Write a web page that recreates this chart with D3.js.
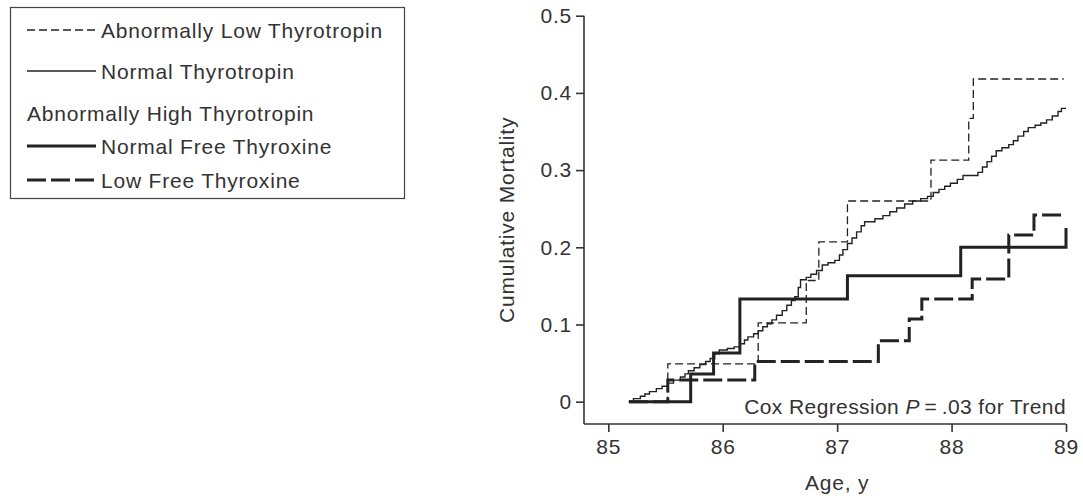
<!DOCTYPE html>
<html>
<head>
<meta charset="utf-8">
<script src="https://cdn.jsdelivr.net/npm/d3@7"></script>
<style>
  body { margin: 0; background: #fff; }
  svg { display: block; font-family: "Liberation Sans", Arial, Helvetica, sans-serif; }
  text { fill: #333; }
</style>
</head>
<body>
<div id="chart"></div>
<script>
// data: [age, cumulative mortality] at each step
var lowTsh = [[85.18,0],[85.52,0.049],[86.31,0.102],[86.73,0.157],[86.84,0.207],
  [87.09,0.26],[87.82,0.313],[88.15,0.367],[88.19,0.418]]
var lowTshEnd = 88.98

var normalTsh = [[85.18,0],[85.22,0.004],[85.28,0.007],[85.32,0.010],[85.36,0.013],
  [85.42,0.017],[85.47,0.020],[85.52,0.024],[85.57,0.028],[85.63,0.032],[85.67,0.036],
  [85.70,0.040],[85.75,0.044],[85.80,0.048],[85.85,0.052],[85.89,0.056],[85.93,0.062],
  [85.97,0.067],[86.04,0.069],[86.10,0.071],[86.15,0.075],[86.19,0.080],[86.22,0.084],
  [86.27,0.088],[86.31,0.092],[86.35,0.097],[86.39,0.101],[86.43,0.106],[86.47,0.112],
  [86.52,0.118],[86.56,0.125],[86.60,0.131],[86.63,0.136],[86.66,0.148],[86.68,0.158],
  [86.73,0.161],[86.77,0.165],[86.82,0.170],[86.87,0.177],[86.92,0.180],[86.98,0.183],
  [87.02,0.190],[87.05,0.197],[87.09,0.205],[87.13,0.212],[87.17,0.220],[87.21,0.228],
  [87.24,0.233],[87.33,0.237],[87.40,0.241],[87.46,0.246],[87.52,0.251],[87.59,0.256],
  [87.66,0.260],[87.73,0.263],[87.79,0.266],[87.84,0.271],[87.89,0.275],[87.94,0.279],
  [87.99,0.283],[88.05,0.288],[88.10,0.293],[88.23,0.297],[88.27,0.304],[88.31,0.311],
  [88.35,0.318],[88.39,0.325],[88.44,0.329],[88.50,0.333],[88.54,0.338],[88.58,0.344],
  [88.63,0.350],[88.67,0.355],[88.73,0.358],[88.78,0.361],[88.83,0.365],[88.88,0.370],
  [88.93,0.376],[88.96,0.380]]
var normalTshEnd = 89.0

var normalT4 = [[85.18,0],[85.72,0.036],[85.92,0.063],[86.15,0.133],[87.09,0.163],
  [88.08,0.2],[89.0,0.225]]
var normalT4End = 89.0

var lowT4 = [[85.18,0],[85.52,0.028],[86.28,0.052],[87.36,0.079],[87.63,0.107],
  [87.74,0.133],[88.18,0.159],[88.50,0.216],[88.72,0.242]]
var lowT4End = 88.98

var xTicks = [85, 86, 87, 88, 89]
var yTicks = [0, 0.1, 0.2, 0.3, 0.4, 0.5]
var yTickLabels = ['0', '0.1', '0.2', '0.3', '0.4', '0.5']

var W = 1083, H = 499
var axisX = 584, axisY = 424

var svg = d3.select('#chart').append('svg')
  .attr('width', W).attr('height', H)

var x = d3.scaleLinear().domain([85, 89]).range([608.3, 1066])
var y = d3.scaleLinear().domain([0, 0.5]).range([401.7, 15.7])

var fontSize = 21, spacing = '0.8px'

// axes
var yAxis = svg.append('g')
  .attr('transform', 'translate(' + axisX + ',0)')
  .call(d3.axisLeft(y).tickValues(yTicks).tickSize(8).tickSizeOuter(0)
    .tickFormat(function(d, i){ return yTickLabels[i] }))
yAxis.select('.domain').remove()
yAxis.append('line')
  .attr('x1', 0).attr('x2', 0)
  .attr('y1', y(0.5)).attr('y2', axisY)
  .attr('stroke', '#333').attr('stroke-width', 1.6)

var xAxis = svg.append('g')
  .attr('transform', 'translate(0,' + axisY + ')')
  .call(d3.axisBottom(x).tickValues(xTicks).tickSize(8).tickSizeOuter(0)
    .tickFormat(d3.format('d')))
xAxis.select('.domain').remove()
xAxis.append('line')
  .attr('x1', axisX).attr('x2', x(89))
  .attr('y1', 0).attr('y2', 0)
  .attr('stroke', '#333').attr('stroke-width', 1.6)

svg.selectAll('.tick line').attr('stroke', '#333').attr('stroke-width', 1.6)
svg.selectAll('.tick text')
  .attr('font-size', fontSize)
  .attr('font-family', '"Liberation Sans", Arial, sans-serif')
  .style('letter-spacing', spacing)
  .attr('fill', '#333')
yAxis.selectAll('.tick text').attr('x', -12)
xAxis.selectAll('.tick text').attr('y', 15)

svg.append('text')
  .attr('x', x(87)).attr('y', 490)
  .attr('text-anchor', 'middle')
  .attr('font-size', fontSize).style('letter-spacing', spacing)
  .text('Age, y')

svg.append('text')
  .attr('transform', 'translate(514,' + ((y(0.5) + axisY) / 2) + ') rotate(-90)')
  .attr('text-anchor', 'middle')
  .attr('font-size', fontSize).style('letter-spacing', spacing)
  .text('Cumulative Mortality')

var note = svg.append('text')
  .attr('x', x(89)).attr('y', 414)
  .attr('text-anchor', 'end')
  .attr('font-size', fontSize).style('letter-spacing', '0.4px')
note.append('tspan').text('Cox Regression ')
note.append('tspan').attr('font-style', 'italic').text('P')
note.append('tspan').text('\u2009=\u2009.03 for Trend')

// step curves
var series = [
  {name: 'Abnormally Low Thyrotropin', data: lowTsh, end: lowTshEnd, width: 1.3, dash: '8,4'},
  {name: 'Normal Thyrotropin', data: normalTsh, end: normalTshEnd, width: 1.4, dash: null},
  {name: 'Normal Free Thyroxine', data: normalT4, end: normalT4End, width: 3, dash: null},
  {name: 'Low Free Thyroxine', data: lowT4, end: lowT4End, width: 3, dash: '19,5'}
]

var line = d3.line()
  .x(function(d){ return x(d[0]) })
  .y(function(d){ return y(d[1]) })
  .curve(d3.curveStepAfter)

series.forEach(function(s){
  var pts = s.data.slice()
  var last = pts[pts.length - 1]
  if(last[0] < s.end) pts.push([s.end, last[1]])
  svg.append('path')
    .attr('d', line(pts))
    .attr('fill', 'none')
    .attr('stroke', '#222')
    .attr('stroke-width', s.width)
    .attr('stroke-dasharray', s.dash)
})

// legend
var legend = svg.append('g')
legend.append('rect')
  .attr('x', 10.5).attr('y', 7.5)
  .attr('width', 394).attr('height', 191)
  .attr('fill', 'none').attr('stroke', '#444').attr('stroke-width', 1.2)

var rows = [
  {s: series[0], y: 30},
  {s: series[1], y: 71},
  {s: null, label: 'Abnormally High Thyrotropin', y: 113},
  {s: series[2], y: 146},
  {s: series[3], y: 180}
]
rows.forEach(function(r){
  if(r.s){
    legend.append('line')
      .attr('x1', 27).attr('x2', 96)
      .attr('y1', r.y).attr('y2', r.y)
      .attr('stroke', '#222')
      .attr('stroke-width', r.s.width)
      .attr('stroke-dasharray', r.s.dash)
  }
  legend.append('text')
    .attr('x', r.s ? 101 : 27).attr('y', r.y)
    .attr('dy', '0.36em')
    .attr('font-size', fontSize).style('letter-spacing', spacing)
    .text(r.s ? r.s.name : r.label)
})
</script>
</body>
</html>
